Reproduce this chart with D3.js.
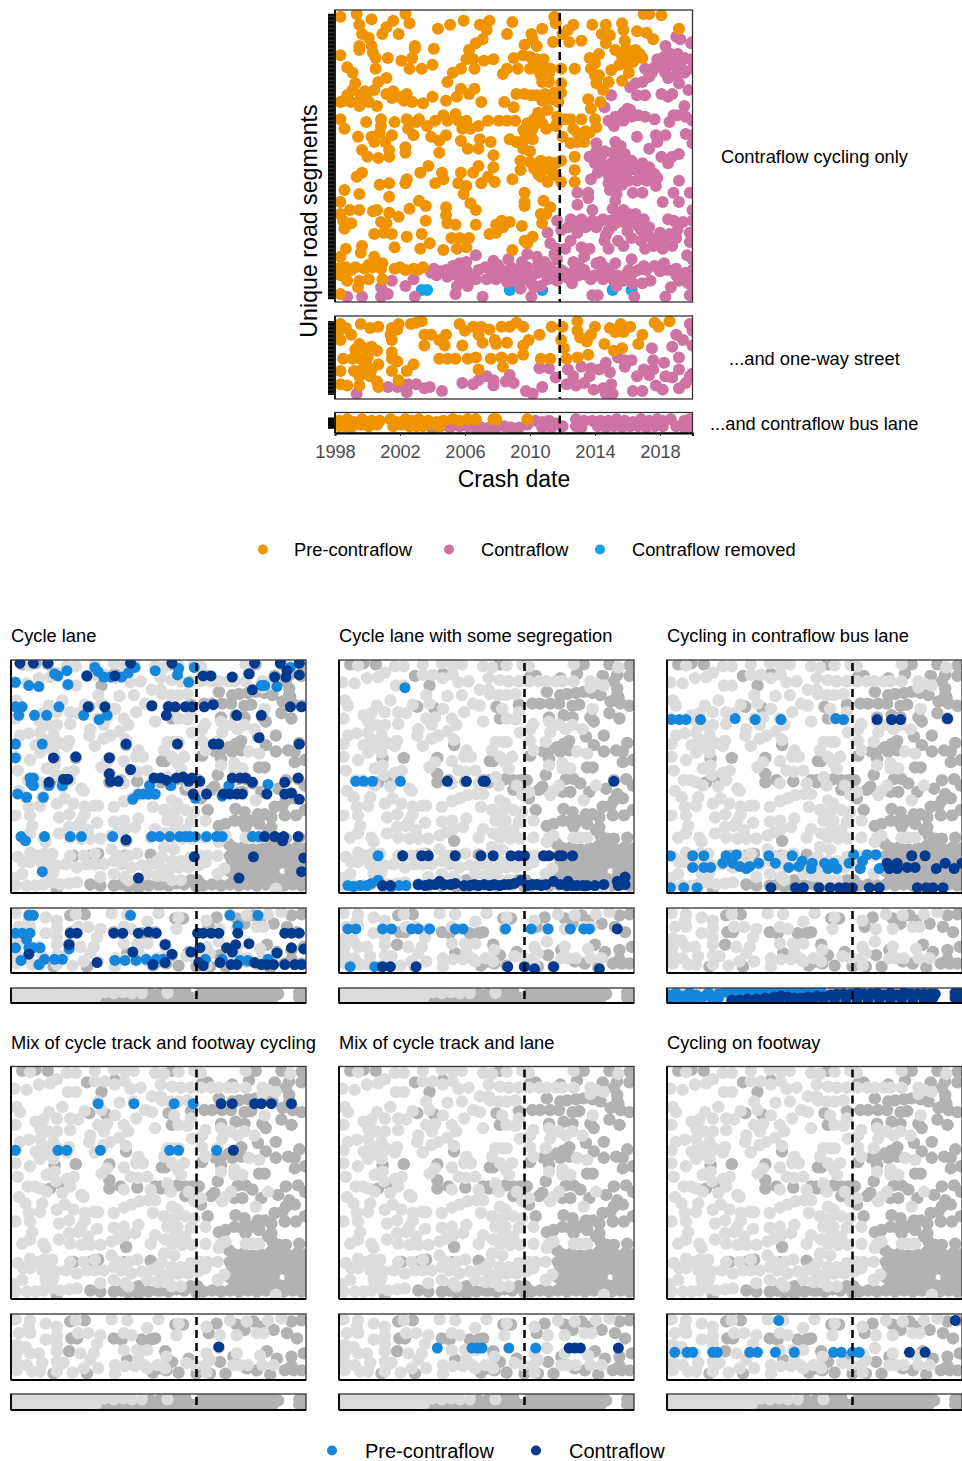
<!DOCTYPE html>
<html><head><meta charset="utf-8">
<style>html,body{margin:0;padding:0;background:#fff}svg{display:block}text{font-family:"Liberation Sans",Arial,sans-serif}</style>
<script src="https://cdn.jsdelivr.net/npm/d3@7"></script></head><body>
<script>
// Units: x = months since Jan 1998, y = segment rank counted from the bottom of its facet
const interventionMonth = 166;
const yearTicks = [1998,2002,2006,2010,2014,2018];
const preMain = [[4,214],[16,216],[18,208],[27,212],[52,216],[55,209],[43,211],[38,206],[95,211],[85,208],[76,205],[107,208],[114,211],[112,204],[131,210],[127,201],[162,214],[163,209],[176,208],[190,208],[200,208],[212,209],[213,204],[228,216],[232,216],[241,215],[254,205],
[20,201],[25,198],[35,201],[47,201],[18,192],[18,189],[27,192],[28,187],[30,183],[4,185],[59,192],[59,190],[73,190],[39,183],[49,181],[57,183],[55,175],[64,175],[72,178],[30,175],[9,176],[13,172],
[109,197],[104,194],[99,189],[97,182],[102,182],[110,181],[117,182],[103,175],[93,175],[87,172],[83,165],[132,183],[139,185],[145,201],[146,197],[153,205],[140,193],[149,192],[161,195],[168,201],[172,204],[173,195],[182,196],[197,201],[203,200],[200,194],[214,196],[223,203],[230,202],[235,197],[222,189],[207,189],[195,186],[188,183],[212,184],[217,184],[222,184],[227,183],[192,179],[189,175],[204,174],[213,179],[217,172],[212,166],[192,170],[193,164],[202,165],[198,159],
[144,184],[149,182],[154,182],[153,178],[144,175],[135,175],[127,175],[124,171],[159,175],[167,175],[177,175],[152,170],[153,165],[158,165],[167,164],
[38,168],[32,165],[29,159],[15,164],[13,159],[9,155],[4,150],[7,151],[19,155],[23,155],[18,147],[31,147],[38,156],[43,158],[42,153],[53,156],[51,151],[57,150],[65,149],[72,154],[82,151],[90,154],[93,160],[99,156],[103,160],[108,150],[125,150],[132,146],[134,156],[140,156],[149,155],[155,156],[162,157],[167,157],[153,151],[157,144],[187,152],[189,145],[196,150],[4,137],[7,130],
[23,135],[34,137],[34,132],[53,137],[44,135],[62,137],[68,132],[74,136],[83,136],[89,141],[91,136],[97,136],[106,132],[113,136],[121,136],[127,136],[133,136],[142,134],[147,137],[151,140],[153,134],[146,130],[139,129],[164,139],[164,134],[174,137],[182,137],[192,137],[193,131],[176,130],[179,127],[188,127],
[17,124],[27,124],[33,127],[42,125],[29,120],[37,120],[20,114],[24,109],[32,108],[40,114],[40,109],[52,116],[52,112],[58,125],[54,130],[71,124],[77,121],[82,125],[77,112],[93,121],[98,115],[106,115],[107,122],[115,120],[117,110],[129,122],[134,120],[139,121],[139,115],[144,113],[117,101],[174,119],[179,120],[184,120],[168,124],
[69,102],[63,97],[53,92],[52,89],[20,97],[16,94],[33,88],[40,89],[7,84],[18,81],[40,79],[79,97],[74,89],[80,92],[93,97],[91,89],[97,87],[95,81],[102,97],[106,102],[108,89],[113,94],[118,90],[131,92],[137,99],[137,106],[144,105],[152,106],[151,99],[152,94],[157,90],[163,104],[167,106],[163,95],[167,90],[177,109],[177,99],[177,90],
[140,82],[140,75],[140,72],[154,76],[159,71],[156,66],[152,66],[153,59],[62,76],[67,72],[55,70],[4,75],[4,66],[11,69],[18,69],[28,68],[31,69],[40,67],[47,64],[34,60],[38,59],[67,61],[82,71],[82,65],[83,59],[89,58],[100,74],[104,69],[104,58],[6,61],[12,59],[7,55],[29,51],[36,52],[42,51],[53,49],[64,51],[123,61],[119,58],[129,60],[114,51],[119,52],[124,56],[138,57],[86,48],[92,48],[99,48],[97,41],[90,40],[80,39],[63,40],[70,44],[44,41],[140,46],[146,49],[142,44],[131,39],
[8,40],[20,42],[19,37],[29,34],[4,34],[4,26],[9,25],[15,26],[22,25],[28,26],[34,25],[35,29],[44,25],[52,24],[58,25],[65,26],[4,20],[9,16],[18,16],[25,17],[17,11],[35,17],[4,6],
[150,142],[145,130],[141,125],[156,130],[146,122],[150,96],[155,100],[160,98],[147,100],[158,105],[25,150],[12,150],[22,158],[47,154],[60,135],[80,140],[94,130],[170,137],[185,128],[163,132],[100,130],[8,26],[12,24],[25,28],[48,26],[61,24],[150,174],[158,171],[147,179],[215,190],[220,180],[225,186],[210,178],[195,170],[145,155],[160,152],[165,150]];
const contraMain = [[9,4],[20,4],[34,4],[39,6],[59,4],[34,11],[42,16],[52,12],[58,17],[71,22],[75,20],[82,24],[87,21],[92,29],[97,24],[104,35],[89,6],[90,12],[98,12],[97,17],[104,17],[109,4],[117,31],[115,24],[122,25],[112,17],[119,17],[128,32],[129,22],[136,24],[142,26],[132,16],[139,17],[145,4],[137,10],[147,11],[142,36],[149,34],[153,26],[159,26],[164,32],[167,24],[157,17],[164,16],[170,22],[177,24],[184,24],[184,34],[188,40],[193,29],[199,26],[207,29],[190,5],[194,5],[189,17],[198,17],[206,16],[213,16],[220,14],[221,4],[219,32],[217,24],[224,24],[228,27],[236,27],[243,29],[252,25],[259,22],[264,24],[233,16],[227,14],[244,4],[248,11],[254,16],[262,17],[261,14],[262,5],[264,7],[260,35],[264,32],
[157,52],[164,61],[167,54],[159,44],[164,40],[172,56],[174,62],[178,60],[179,52],[174,46],[170,40],[182,62],[182,41],[190,61],[193,56],[198,62],[203,61],[208,67],[213,69],[217,66],[222,66],[207,59],[213,60],[219,60],[224,57],[232,56],[202,54],[199,46],[202,40],[209,46],[213,42],[219,48],[226,46],[229,40],[232,49],[238,47],[242,40],[247,51],[246,62],[250,61],[257,60],[253,54],[262,52],[262,45],[264,47],[264,69],[264,61],[249,42],
[179,82],[187,82],[187,78],[179,73],[190,69],[203,84],[207,76],[205,70],[220,82],[228,96],[236,96],[242,75],[250,82],[254,91],[262,82],[254,75],[237,87],[227,82],
[188,109],[193,113],[199,113],[207,111],[214,111],[192,104],[198,102],[204,104],[211,106],[217,104],[194,97],[189,92],[202,95],[208,99],[214,96],[222,99],[227,104],[202,89],[209,90],[217,91],[223,91],[232,101],[241,109],[246,104],[254,111],[249,109],[208,81],
[193,119],[207,120],[211,117],[232,115],[238,120],[237,125],[244,125],[259,126],[264,125],[264,119],[223,124],
[202,136],[207,139],[213,136],[218,144],[219,139],[224,140],[229,139],[236,137],[253,140],[259,139],[247,135],[264,136],[258,147],
[222,164],[227,165],[232,169],[218,161],[223,155],[229,155],[241,156],[249,156],[246,154],[261,159],[204,155],[199,146],
[238,182],[244,181],[250,182],[256,181],[249,178],[256,175],[229,175],[234,172],[242,175],[263,182],[264,175],[252,170],[258,172],[254,164],[244,192],[252,199],[255,197],[263,194],[264,195],
[73,25],[78,23],[83,19],[88,26],[93,22],[100,20],[106,24],[111,26],[118,20],[124,21],[130,26],[135,20],[141,22],[146,20],[150,22],[155,22],[160,21],[166,20],[172,18],[180,20],[186,20],[192,20],[197,22],[203,22],[208,20],[214,20],[220,22],[240,23],[246,24],[252,20],[258,18],[92,18],[97,30],[87,27],[150,28],[155,30],[138,30],[176,30],[162,36],[180,28],[196,30],[120,28],[127,15],[145,14],[152,12],[175,14],[208,12],[230,24],
[195,60],[205,57],[211,62],[228,62],[240,52],[252,48],[235,42],[243,46],[226,54],[216,53],[200,50],[185,56],[205,112],[212,102],[204,95],[200,102],[207,93],[212,88],[206,84],[197,110],[219,106],[226,97],[216,98],[230,91],[238,93],[203,90],[250,140],[213,142],[206,132],[216,145],[246,168],[243,184],[248,186],[253,186],[246,178],[258,183],[240,178],[252,176],[244,172],[236,176]];
const removedMain = [[64,9],[68,9],[129,9],[153,9],[205,9],[219,9]];
const preMid = [[4,56],[3,51],[8,53],[12,48],[4,44],[19,56],[26,53],[32,54],[42,53],[47,56],[46,52],[41,48],[42,44],[18,41],[15,37],[22,38],[27,39],[31,36],[42,35],[42,30],[46,28],[6,30],[13,30],[19,30],[24,31],[23,26],[32,26],[4,21],[14,21],[20,22],[27,22],[18,17],[42,21],[53,21],[58,26],[47,14],[4,11],[9,10],[18,10],[26,17],[31,13],[32,9],[56,56],[60,57],[64,58],[66,48],[71,48],[66,40],[77,44],[82,48],[81,40],[77,30],[83,30],[89,30],[92,56],[96,51],[94,40],[98,30],[104,31],[106,22],[102,54],[108,54],[114,52],[106,48],[109,42],[118,44],[119,41],[127,42],[123,54],[129,54],[134,57],[139,54],[143,44],[139,40],[139,33],[115,30],[123,31],[131,30],[124,24],[151,48],[152,30],[159,30],[160,54],[168,54],[167,44],[169,38],[171,30],[179,31],[187,33],[179,58],[179,51],[181,46],[186,43],[192,54],[189,48],[199,41],[203,53],[211,56],[207,50],[213,50],[218,54],[227,48],[224,41],[236,57],[239,54],[247,58],[206,36],[212,38]];
const contraMid = [[16,4],[39,9],[46,9],[53,5],[54,11],[60,11],[66,8],[70,9],[79,6],[94,12],[102,11],[106,14],[112,17],[117,14],[117,10],[126,13],[129,18],[132,12],[141,6],[146,4],[153,9],[151,23],[158,23],[163,16],[172,22],[171,11],[176,17],[178,10],[184,12],[182,24],[189,23],[188,17],[191,7],[198,8],[195,22],[200,27],[203,20],[204,11],[200,4],[205,4],[209,31],[214,29],[219,29],[214,24],[223,17],[220,6],[227,6],[228,22],[234,38],[235,29],[235,22],[232,18],[237,10],[242,7],[243,27],[244,17],[254,31],[254,22],[249,39],[257,44],[252,48],[262,56],[264,51],[264,40],[264,19],[259,12],[254,8],[249,16],[262,17]];
const preStrip = [[3,9],[9,10],[14,8],[20,10],[27,9],[33,9],[41,10],[46,8],[52,10],[57,9],[62,10],[69,9],[75,8],[80,9],[87,10],[92,9],[98,10],[104,10],[117,10],[119,10],[142,10],[3,5],[7,5],[12,4],[19,6],[25,5],[31,6],[43,5],[49,6],[55,5],[60,5],[65,5],[72,6],[77,5]];
const contraStrip = [[72,3],[78,5],[85,4],[92,5],[98,5],[104,3],[108,4],[114,4],[119,4],[125,5],[130,4],[136,4],[142,6],[148,9],[153,8],[158,9],[163,7],[168,5],[153,4],[160,4],[178,10],[178,5],[182,4],[190,9],[196,9],[202,9],[208,10],[214,9],[220,8],[226,10],[232,9],[238,10],[242,9],[248,10],[194,5],[200,4],[206,5],[212,4],[218,5],[224,5],[230,4],[236,5],[242,5],[252,5],[258,9],[262,10],[264,6],[258,4],[264,4],[184,9]];

// grey backdrop used by the six small panels (segments ordered as in those panels)
const backdropPre = [[17,214],[50,213],[58,213],[75,215],[92,216],[102,214],[110,215],[129,213],[41,207],[35,203],[25,202],[14,197],[3,198],[51,195],[58,195],[75,205],[84,205],[93,202],[102,205],[107,198],[116,199],[126,191],[134,191],[78,186],[97,185],[110,186],[46,181],[34,176],[41,170],[5,181],[8,176],[4,164],[22,167],[29,169],[66,177],[81,178],[93,173],[120,178],[126,176],[112,170],[129,161],[53,170],[60,169],[53,159],[26,161],[33,158],[41,158],[78,164],[86,165],[101,164],[105,158],[83,158],[71,154],[70,148],[97,152],[89,148],[83,145],[103,144],[75,138],[8,148],[16,150],[26,151],[28,145],[38,148],[36,143],[43,141],[52,143],[22,139],[31,137],[26,132],[38,132],[50,138],[4,140],[4,128],[17,125],[114,134],[112,128],[118,128],[101,124],[81,118],[86,123],[32,117],[39,120],[40,111],[6,115],[56,115],[50,113],[53,106],[107,115],[113,114],[122,115],[15,106],[21,106],[26,104],[32,101],[46,100],[101,103],[125,103],[65,96],[63,98],[7,96],[13,90],[28,90],[16,81],[26,82],[41,84],[48,89],[56,84],[66,81],[74,82],[78,82],[92,81],[101,86],[108,89],[115,92],[123,93],[129,93],[127,81],[4,73],[17,73],[43,71],[52,74],[66,74],[63,68],[77,66],[92,67],[101,68],[114,70],[111,62],[19,63],[17,56],[10,52],[29,52],[31,48],[43,56],[52,62],[60,63],[69,59],[53,52],[63,51],[71,51],[80,51],[90,54],[96,57],[102,60],[125,52],[129,60],
[17,38],[6,34],[24,35],[30,37],[37,37],[53,35],[65,35],[75,37],[90,41],[96,35],[105,35],[113,37],[11,29],[17,29],[28,27],[35,29],[40,26],[49,27],[59,24],[68,27],[75,27],[83,27],[92,30],[99,27],[108,24],[117,26],[125,27],[131,30],[31,18],[38,19],[10,18],[3,14],[80,15],[92,18],[102,15],[4,7],[14,7],[22,7],[29,8],[37,10],[44,8],[52,9],[59,10],[105,12],[122,18],[131,16],
[137,212],[150,214],[164,215],[170,213],[210,215],[250,212],[134,202],[144,200],[152,199],[161,199],[170,199],[179,199],[186,199],[194,199],[200,199],[210,199],[225,199],[230,197],[237,195],[225,193],[135,187],[143,186],[150,186],[158,187],[227,173],[146,173],[161,170],[150,164],[158,163],[174,159],[171,154],[188,161],[189,151],[197,158],[203,154],[209,158],[218,154],[162,151],[171,143],[185,142],[140,142],[146,142],[150,142],[137,134],[174,134],[213,133],[222,131],[144,128],[155,128],[149,122],[152,117],[188,120],[200,122],[200,117],[207,117],[140,109],[143,101],[159,101],[197,101],[192,96],[189,92],[230,101],[164,92],[170,95],[219,87],[144,87],[149,84],[137,78],[146,76],[156,78],[164,76],[174,68],[140,68],[149,68],[161,67],[147,60],[156,59],[138,56],[144,52],[153,51],[162,51],[174,52],[188,52],[192,54],[186,48],[210,52],[216,52],[222,52],[137,43],[146,41],[135,34],[144,30],[152,30],[161,34],[170,35],[176,35],[185,35],[134,24],[143,23],[150,24],[159,24],[168,26],[174,29],[191,23],[185,18],[137,16],[144,12],[152,12],[237,4]];
const backdropContra = [[10,215],[22,216],[33,215],[68,204],[81,195],[70,175],[85,174],[103,139],[58,127],[39,126],[88,127],[88,112],[88,104],[98,106],[113,105],[35,104],[46,106],[103,49],[56,35],[71,35],[78,37],[102,35],[125,36],[71,8],[80,7],[92,7],[99,8],[114,12],[114,5],[123,7],[131,8],[129,106],[134,104],[135,124],[107,217],[93,206],[41,4],
[144,215],[176,204],[171,203],[198,202],[213,206],[219,215],[242,215],[260,214],[260,204],[236,204],[249,205],[246,199],[249,192],[186,189],[198,186],[204,187],[212,188],[219,189],[227,188],[234,186],[249,186],[250,184],[243,180],[252,178],[260,176],[173,178],[180,178],[189,178],[197,178],[209,176],[215,177],[161,177],[141,175],[144,164],[201,167],[209,165],[225,165],[228,161],[242,169],[251,164],[188,165],[237,148],[221,147],[228,139],[206,143],[201,140],[195,137],[188,134],[198,133],[206,134],[183,133],[188,126],[171,129],[237,133],[248,134],[254,133],[258,141],[254,123],[263,125],[138,124],[222,118],[227,118],[185,111],[134,106],[149,107],[156,106],[162,106],[168,106],[203,107],[210,107],[216,103],[246,106],[257,107],[263,101],[239,98],[224,95],[200,95],[207,95],[179,97],[182,100],[156,97],[164,100],[170,89],[176,78],[201,79],[209,76],[236,81],[243,82],[245,73],[255,73],[263,78],[249,93],[254,89],[246,87],[221,74],[227,74],[233,71],[186,63],[192,65],[200,68],[207,67],[215,68],[222,65],[233,62],[210,62],[234,54],[240,51],[246,51],[258,52],[195,46],[203,40],[230,59],
[200,42],[208,43],[216,41],[224,42],[232,44],[240,42],[248,41],[256,43],[264,42],[196,35],[204,36],[212,34],[220,35],[228,36],[236,35],[244,34],[252,36],[262,35],[198,28],[206,29],[214,27],[222,28],[230,29],[238,27],[246,28],[254,29],[264,28],[195,21],[203,22],[211,20],[219,21],[227,22],[235,20],[250,21],[258,22],[264,20],[200,14],[208,15],[216,13],[224,14],[232,15],[240,13],[248,14],[256,15],[262,13],[134,8],[141,7],[148,9],[155,8],[161,12],[167,12],[172,7],[180,8],[188,7],[196,8],[204,7],[212,8],[220,7],[228,8],[244,7],[252,8],[260,7],[105,6],[166,6],[236,9]];
const backdropPreMid = [[4,57],[17,56],[31,53],[41,50],[58,56],[90,57],[104,56],[132,57],[196,56],[211,55],[230,56],[242,58],[16,50],[7,44],[17,44],[41,42],[60,44],[69,44],[80,42],[101,44],[108,42],[122,49],[148,42],[150,53],[175,50],[187,42],[202,42],[220,44],[226,44],[31,38],[5,33],[13,31],[41,34],[77,34],[101,28],[5,25],[17,25],[25,25],[41,27],[62,25],[74,25],[113,28],[122,28],[175,25],[186,30],[223,23],[5,17],[14,14],[28,16],[41,17],[47,16],[71,19],[93,14],[114,20],[119,14],[131,14],[139,22],[157,16],[165,14],[174,14],[178,19],[199,14],[205,14],[212,14],[225,14],[235,14],[5,9],[19,8],[26,8],[41,8],[55,7],[65,11],[78,11],[93,6],[102,13],[111,13],[122,11],[138,11],[175,7],[202,25]];
const backdropContraMid = [[53,55],[66,56],[147,52],[154,52],[184,53],[177,44],[54,39],[59,39],[92,39],[99,38],[117,38],[129,39],[125,38],[217,55],[209,47],[223,50],[202,52],[251,55],[260,56],[247,44],[256,39],[235,47],[52,27],[138,27],[144,17],[104,19],[187,17],[199,22],[211,11],[229,27],[238,20],[251,22],[251,13],[262,25],[38,6],[68,6],[127,7],[139,9],[150,7],[159,20],[192,6],[220,9],[232,5],[245,9],[253,9],[260,9],[178,6],[166,6],[133,11]];
const backdropPreStrip = [[4,11],[12,10],[20,11],[28,10],[36,11],[44,10],[52,11],[60,10],[68,11],[76,10],[84,11],[92,10],[100,11],[108,10],[117,10],[140,10],[4,5],[12,5],[20,4],[28,5],[36,5],[44,4],[52,5],[60,5],[68,5],[76,6]];
const backdropContraStrip = [[82,4],[90,4],[98,5],[106,4],[114,5],[122,4],[130,5],[138,5],[146,5],[154,5],[162,5],[170,5],[178,4],[186,5],[194,5],[202,5],[210,4],[218,5],[226,5],[234,5],[125,9],[133,9],[148,10],[156,11],[170,10],[178,11],[186,10],[194,11],[202,10],[210,11],[218,10],[226,11],[234,10],[239,9],[258,10],[264,10],[258,5],[264,5]];

const laneOnePre = [[50,209],[39,206],[42,204],[75,212],[78,208],[83,203],[89,203],[99,203],[105,207],[111,212],[129,209],[150,211],[149,205],[164,212],[159,198],[4,198],[16,195],[25,194],[51,196],[4,175],[10,175],[7,167],[21,167],[32,167],[43,175],[65,167],[79,163],[86,167],[224,195],[227,195],[238,194],[250,212],[4,140],[28,140],[4,127],[17,108],[20,108],[18,103],[20,101],[34,101],[46,101],[6,93],[14,90],[29,90],[109,88],[114,93],[118,93],[123,93],[129,93],[124,101],[143,101],[165,89],[189,91],[195,101],[230,102],[9,53],[13,49],[30,53],[53,53],[63,53],[91,53],[126,53],[133,53],[142,53],[151,53],[156,53],[160,53],[165,53],[175,53],[184,53],[189,53],[216,53],[222,53],[28,20]];
const laneOneContra = [[8,216],[20,216],[33,216],[107,216],[144,216],[218,216],[241,216],[258,216],[68,204],[93,204],[172,204],[179,204],[198,203],[213,206],[236,203],[247,209],[246,203],[258,205],[216,191],[69,175],[84,175],[126,176],[141,175],[147,175],[156,175],[162,175],[173,175],[181,177],[139,167],[202,167],[224,167],[250,175],[260,175],[103,140],[149,140],[181,140],[186,140],[222,146],[258,140],[38,127],[58,128],[88,127],[107,116],[88,112],[89,105],[96,105],[34,104],[47,107],[51,107],[128,108],[134,108],[139,106],[148,108],[154,109],[159,105],[162,108],[169,105],[163,93],[175,93],[190,93],[196,93],[202,93],[207,93],[198,108],[205,108],[210,108],[216,104],[229,93],[245,104],[245,93],[251,94],[257,108],[258,88],[103,50],[227,53],[236,53],[244,53],[243,49],[257,53],[164,34],[217,34],[262,33],[260,20],[114,14],[204,14]];
const laneOnePreMid = [[16,55],[20,55],[107,55],[196,55],[221,55],[203,45],[4,38],[10,38],[17,38],[14,32],[4,24],[16,24],[20,24],[26,24],[52,23],[9,12],[30,13],[25,8],[39,13],[46,13],[93,12],[102,12],[112,12],[121,13],[130,13],[136,13],[174,13],[189,13],[205,12],[212,12],[230,13]];
const laneOneContraMid = [[53,38],[59,38],[92,38],[100,38],[114,38],[123,39],[130,38],[167,38],[172,38],[179,38],[186,38],[203,38],[245,38],[251,38],[258,38],[52,27],[138,27],[169,24],[193,24],[201,27],[213,28],[198,20],[251,24],[262,23],[16,18],[109,20],[144,18],[161,20],[238,19],[77,10],[127,8],[138,10],[168,10],[172,7],[187,10],[197,8],[202,8],[218,10],[224,8],[229,8],[235,8],[245,8],[254,8],[260,8]];
const segregatedPre = [[59,193],[15,105],[22,105],[30,105],[55,105],[35,35],[8,7],[19,7],[25,7],[35,12],[54,7],[60,7],[29,9],[13,6],[47,6]];
const segregatedContra = [[97,105],[114,105],[129,105],[131,105],[246,105],[57,35],[74,35],[80,35],[104,35],[127,35],[138,35],[154,35],[161,35],[166,35],[183,35],[188,35],[197,35],[200,35],[209,35],[39,7],[46,7],[71,8],[77,7],[81,8],[90,11],[94,8],[104,9],[112,7],[121,8],[130,8],[139,8],[148,8],[157,9],[163,12],[169,7],[177,8],[185,8],[192,11],[198,8],[205,11],[204,7],[213,7],[222,7],[229,7],[237,8],[249,11],[256,15],[250,7],[256,8],[86,8],[100,8],[117,7],[125,7],[135,7],[144,7],[152,8],[173,8],[181,7],[209,7],[218,7]];
const segregatedPreMid = [[8,42],[15,42],[39,42],[47,42],[65,42],[71,42],[81,42],[104,42],[111,42],[149,42],[172,42],[187,42],[207,42],[219,42],[224,42],[10,6],[32,6]];
const segregatedContraMid = [[249,42],[39,6],[46,6],[69,6],[151,6],[166,6],[175,4],[192,6],[233,4]];
const busLanePre = [[4,163],[11,163],[17,163],[30,163],[61,164],[79,163],[102,163],[151,164],[158,163],[3,35],[23,35],[33,35],[53,35],[62,36],[50,28],[59,28],[65,25],[74,25],[82,28],[91,35],[97,28],[112,35],[109,24],[118,25],[121,30],[130,28],[129,23],[141,28],[144,23],[149,28],[152,23],[163,28],[167,36],[173,23],[175,30],[179,36],[187,36],[190,23],[23,24],[33,24],[39,24],[71,23],[3,5],[15,5],[27,5]];
const busLaneContra = [[188,163],[201,163],[209,163],[251,164],[197,28],[206,28],[199,23],[206,23],[215,24],[222,24],[219,35],[231,35],[241,23],[249,28],[257,23],[264,28],[93,5],[115,5],[122,5],[136,5],[146,5],[154,5],[160,5],[166,5],[181,5],[190,5],[224,5],[232,5],[238,5],[247,5]];
const busLanePreStrip = [[2,8],[8,10],[14,7],[20,10],[26,8],[32,6],[37,10],[44,6],[46,9],[52,11],[58,10],[64,11],[70,12],[78,12],[85,12],[92,12],[100,12],[108,13],[116,13],[122,10],[130,13],[138,12],[10,5],[16,5],[22,5],[28,5],[40,5],[46,5],[4,5]];
const busLaneContraStrip = [[58,3],[72,4],[80,4],[88,5],[96,6],[102,7],[108,6],[114,5],[120,5],[126,6],[134,7],[140,6],[146,8],[152,9],[158,9],[164,9],[170,10],[176,9],[182,9],[188,10],[194,8],[200,10],[206,8],[212,10],[218,9],[224,9],[230,9],[236,9],[240,9],[160,4],[170,4],[180,4],[190,4],[200,4],[210,4],[220,4],[230,4],[238,5],[258,5],[264,5],[258,10],[264,10],[130,3],[150,4],[140,4],[120,2],[100,3],[90,3],[65,3]];
const mixFootwayPre = [[78,184],[110,184],[146,184],[163,184],[4,140],[42,140],[50,140],[80,140],[142,140],[150,140],[184,140]];
const mixFootwayContra = [[188,184],[198,184],[218,184],[224,184],[233,184],[251,184],[199,140]];
const mixFootwayContraMid = [[186,31]];
const mixLanePreMid = [[88,30],[119,30],[124,30],[128,30],[152,30],[176,30]];
const mixLaneContraMid = [[206,30],[211,30],[216,30],[250,30]];
const footwayPreMid = [[7,26],[18,26],[23,26],[41,26],[45,26],[74,26],[81,26],[97,26],[114,26],[149,26],[156,26],[166,26],[172,26],[100,56]];
const footwayContraMid = [[217,26],[231,26],[258,56]];
const panelTitles = ["Cycle lane","Cycle lane with some segregation","Cycling in contraflow bus lane","Mix of cycle track and footway cycling","Mix of cycle track and lane","Cycling on footway"];
const facetLabels = ["Contraflow cycling only","...and one-way street","...and contraflow bus lane"];
const legendTop = ["Pre-contraflow","Contraflow","Contraflow removed"];
const legendBottom = ["Pre-contraflow","Contraflow"];

const C = {pre:"#ef9400",contra:"#cf74a2",removed:"#10a5e8",hiPre:"#1487dc",hiContra:"#023a8f",gL:"#dcdcdc",gD:"#b2b2b2"};
const W=962,H=1461;
const svg=d3.select("body").append("svg").attr("width",W).attr("height",H);
const xDomain=[0,264], yMain=[0,219], yMid=[0,62], yStrip=[0,15];
let clipId=0;
function panel(x0,x1,y0,y1,dom,layers,lineW){
  const x=d3.scaleLinear().domain(xDomain).range([x0,x1]);
  const y=d3.scaleLinear().domain(dom).range([y1,y0]);
  const id="c"+(clipId++);
  svg.append("clipPath").attr("id",id).append("rect").attr("x",x0).attr("y",y0).attr("width",x1-x0).attr("height",y1-y0);
  const g=svg.append("g").attr("clip-path",`url(#${id})`);
  layers.forEach(([data,col,r])=>{
    g.append("g").selectAll("circle").data(data).join("circle")
      .attr("cx",d=>x(d[0])).attr("cy",d=>y(d[1])).attr("r",r).attr("fill",col);
  });
  svg.append("line").attr("x1",x(interventionMonth)).attr("x2",x(interventionMonth)).attr("y1",y0+3).attr("y2",y1)
    .attr("stroke","#000").attr("stroke-width",2.5).attr("stroke-dasharray","8 5");
  svg.append("rect").attr("x",x0).attr("y",y0).attr("width",x1-x0).attr("height",y1-y0).attr("fill","none").attr("stroke","#333").attr("stroke-width",1.3);
  svg.append("line").attr("x1",x0).attr("x2",x0).attr("y1",y0).attr("y2",y1).attr("stroke","#000").attr("stroke-width",lineW);
  return {x,y};
}
function bottomLine(x0,x1,y){svg.append("line").attr("x1",x0).attr("x2",x1).attr("y1",y).attr("y2",y).attr("stroke","#000").attr("stroke-width",1.8);}
function segTicks(y,vals,x0){
  const g=svg.append("g").attr("transform",`translate(${x0},0)`).call(d3.axisLeft(y).tickValues(vals).tickSize(6).tickFormat(""));
  g.select(".domain").remove();
  g.selectAll("line").attr("stroke","#000").attr("stroke-width",1.5);
}
// top block
const TX0=335,TX1=692.5,RT=6;
const main=panel(TX0,TX1,10,302,yMain,[[removedMain,C.removed,RT],[contraMain,C.contra,RT],[preMain,C.pre,RT]],1.5);
const mid=panel(TX0,TX1,316,399,yMid,[[contraMid,C.contra,RT],[preMid,C.pre,RT]],1.5);
const strip=panel(TX0,TX1,412.5,433,yStrip,[[contraStrip,C.contra,RT],[preStrip,C.pre,RT]],1.5);
segTicks(main.y,d3.range(3,217,1),334);
segTicks(mid.y,d3.range(4,59,1),334);
segTicks(strip.y,d3.range(4,11.5,.6),334);
const ax=svg.append("g").attr("transform","translate(0,433)")
  .call(d3.axisBottom(main.x).tickValues(yearTicks.map(v=>(v-1998)*12)).tickSize(3).tickPadding(9).tickFormat(d=>1998+d/12));
ax.select(".domain").attr("stroke","#000").attr("stroke-width",1.8);
ax.selectAll("line").attr("stroke","#333");
ax.selectAll("text").attr("fill","#4d4d4d").style("font-size","18.2px").style("font-family",'"Liberation Sans"');
svg.append("text").attr("x",514).attr("y",487).attr("text-anchor","middle").attr("font-size",23).text("Crash date");
svg.append("text").attr("transform","translate(317,221) rotate(-90)").attr("text-anchor","middle").attr("font-size",23.2).text("Unique road segments");
[[721,163],[729,365],[710,430]].forEach((p,i)=>svg.append("text").attr("x",p[0]).attr("y",p[1]).attr("font-size",18.3).text(facetLabels[i]));
function legend(items,cols,dotX,textX,y,size,r){
  items.forEach((t,i)=>{
    svg.append("circle").attr("cx",dotX[i]).attr("cy",y).attr("r",r).attr("fill",cols[i]);
    svg.append("text").attr("x",textX[i]).attr("y",y+size*0.35).attr("font-size",size).text(t);
  });
}
legend(legendTop,[C.pre,C.contra,C.removed],[263,449,600],[294,481,632],549.5,18.3,5);
legend(legendBottom,[C.hiPre,C.hiContra],[332,536],[365,569],1450.5,20,5);

// small multiples
const RB=6.2,RH=5.5;
const bgMain=[[backdropContra,C.gD,RB],[backdropPre,C.gL,RB]];
const bgMid=[[backdropContraMid,C.gD,RB],[backdropPreMid,C.gL,RB]];
const bgStrip=[[backdropContraStrip,C.gD,RB],[backdropPreStrip,C.gL,RB]];
const cols=[11,339,667], colW=295;
const rows=[{t:642,a:[660,893],b:[908,973],c:[988,1003]},{t:1049,a:[1066.5,1299],b:[1314,1380],c:[1394,1410]}];
const highlights=[
 [laneOnePre,laneOneContra,laneOnePreMid,laneOneContraMid,[],[]],
 [segregatedPre,segregatedContra,segregatedPreMid,segregatedContraMid,[],[]],
 [busLanePre,busLaneContra,[],[],busLanePreStrip,busLaneContraStrip],
 [mixFootwayPre,mixFootwayContra,[],mixFootwayContraMid,[],[]],
 [[],[],mixLanePreMid,mixLaneContraMid,[],[]],
 [[],[],footwayPreMid,footwayContraMid,[],[]]
];
highlights.forEach((h,i)=>{
  const X0=cols[i%3], X1=X0+colW, R=rows[Math.floor(i/3)];
  svg.append("text").attr("x",X0).attr("y",R.t).attr("font-size",18.3).text(panelTitles[i]);
  panel(X0,X1,R.a[0],R.a[1],yMain,bgMain.concat([[h[0],C.hiPre,RH],[h[1],C.hiContra,RH]]),1.8);
  bottomLine(X0,X1,R.a[1]);
  panel(X0,X1,R.b[0],R.b[1],yMid,bgMid.concat([[h[2],C.hiPre,RH],[h[3],C.hiContra,RH]]),1.8);
  bottomLine(X0,X1,R.b[1]);
  panel(X0,X1,R.c[0],R.c[1],yStrip,bgStrip.concat([[h[4],C.hiPre,RH],[h[5],C.hiContra,RH]]),1.8);
  bottomLine(X0,X1,R.c[1]);
});
</script></body></html>
